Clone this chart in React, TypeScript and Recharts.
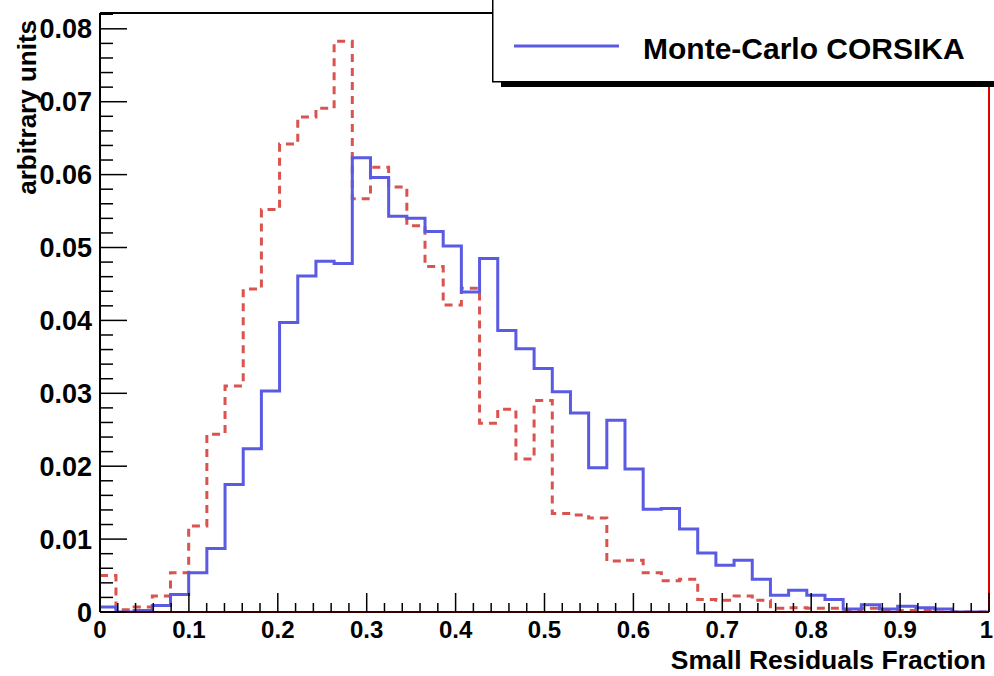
import React from 'react';
import { ComposedChart, Line, XAxis, YAxis, ReferenceLine, Legend } from 'recharts';

// Histogram binning (49 bins across the 0..1 range)
const BIN_START = -0.0025;
const BIN_WIDTH = 0.02045;

// Monte-Carlo CORSIKA (blue, solid)
const corsika = [
  0.0007, 0.0000, 0.0002, 0.0009, 0.0024, 0.0054, 0.0087, 0.0175, 0.0224, 0.0303,
  0.0397, 0.0461, 0.0481, 0.0478, 0.0623, 0.0596, 0.0543, 0.0540, 0.0522, 0.0502,
  0.0439, 0.0485, 0.0386, 0.0361, 0.0334, 0.0302, 0.0273, 0.0198, 0.0263, 0.0196,
  0.0141, 0.0142, 0.0114, 0.0081, 0.0064, 0.0071, 0.0045, 0.0023, 0.0030, 0.0023,
  0.0017, 0.0004, 0.0010, 0.0004, 0.0008, 0.0006, 0.0004, 0.0000, 0.0000,
];

// Second distribution (red, dashed)
const second = [
  0.0050, 0.0003, 0.0007, 0.0022, 0.0054, 0.0118, 0.0244, 0.0310, 0.0443, 0.0552,
  0.0642, 0.0679, 0.0691, 0.0783, 0.0567, 0.0610, 0.0583, 0.0530, 0.0474, 0.0421,
  0.0444, 0.0259, 0.0278, 0.0210, 0.0290, 0.0135, 0.0133, 0.0129, 0.0070, 0.0071,
  0.0054, 0.0043, 0.0045, 0.0017, 0.0016, 0.0022, 0.0016, 0.0005, 0.0006, 0.0005,
  0.0005, 0.0003, 0.0005, 0.0003, 0.0002, 0.0002, 0.0000, 0.0000, 0.0000,
];

const xTickLabels = ['0', '0.1', '0.2', '0.3', '0.4', '0.5', '0.6', '0.7', '0.8', '0.9', '1'];
const yTickLabels = ['0', '0.01', '0.02', '0.03', '0.04', '0.05', '0.06', '0.07', '0.08'];

const X_TITLE = 'Small Residuals Fraction';
const Y_TITLE = 'arbitrary units';
const LEGEND_LABEL = 'Monte-Carlo CORSIKA';

const Y_MAX = 0.08217;
const xTicks = Array.from({ length: 51 }, (_, i) => +(i * 0.02).toFixed(2));
const yTicks = Array.from({ length: 42 }, (_, i) => +(i * 0.002).toFixed(3));

const PLOT_LEFT = 100;
const PLOT_BOTTOM = 612;
const FONT = '"Liberation Sans", Arial, Helvetica, sans-serif';
const BLUE = '#5a5ae2';
const RED_DASH = '#d9534f';
const RED = '#e00000';

function toSteps(values: number[]) {
  const pts = values.map((v, k) => ({ x: Math.max(0, BIN_START + k * BIN_WIDTH), y: v }));
  pts.push({ x: Math.min(1, BIN_START + values.length * BIN_WIDTH), y: values[values.length - 1] });
  return pts;
}

const corsikaSteps = toSteps(corsika);
const secondSteps = toSteps(second);

const YTick = (props: any) => {
  const { y, payload } = props;
  const v = payload.value as number;
  const idx = Math.round(v * 100);
  const major = Math.abs(v * 100 - idx) < 1e-6;
  return (
    <g>
      <line x1={PLOT_LEFT} x2={PLOT_LEFT + (major ? 27 : 13)} y1={y} y2={y} stroke="#000" strokeWidth={1.5} />
      {major && (
        <text x={92} y={y + 9.5} textAnchor="end" fontFamily={FONT} fontWeight="bold" fontSize={27} fill="#000">
          {yTickLabels[idx]}
        </text>
      )}
    </g>
  );
};

const XTick = (props: any) => {
  const { x, payload } = props;
  const v = payload.value as number;
  const idx = Math.round(v * 10);
  const major = Math.abs(v * 10 - idx) < 1e-6;
  const last = idx === xTickLabels.length - 1;
  return (
    <g>
      <line x1={x} x2={x} y1={PLOT_BOTTOM} y2={PLOT_BOTTOM - (major ? 19 : 9)} stroke="#000" strokeWidth={1.5} />
      {major && (
        <text x={last ? x + 4 : x} y={638} textAnchor={last ? 'end' : 'middle'} fontFamily={FONT} fontWeight="bold" fontSize={24} fill="#000">
          {xTickLabels[idx]}
        </text>
      )}
    </g>
  );
};

const XTitle = (props: any) => {
  const vb = props.viewBox || { x: 100, y: 612, width: 889, height: 64 };
  return (
    <text x={vb.x + vb.width - 3} y={vb.y + 57} textAnchor="end" fontFamily={FONT} fontWeight="bold" fontSize={26.5} fill="#000">
      {X_TITLE}
    </text>
  );
};

const YTitle = () => (
  <text
    x={36}
    y={20}
    transform="rotate(-90 36 20)"
    textAnchor="end"
    fontFamily={FONT}
    fontWeight="bold"
    fontSize={26}
    fill="#000"
  >
    {Y_TITLE}
  </text>
);

const LegendBox = (props: any) => {
  const items = (props.payload || []).filter((p: any) => p.value === LEGEND_LABEL);
  const item = items[0];
  const color = item ? item.color : BLUE;
  return (
    <svg width={502} height={92} style={{ display: 'block' }}>
      <rect x={9} y={-10} width={600} height={97} fill="#000" />
      <rect x={0.75} y={-10} width={600} height={91.75} fill="#fff" stroke="#000" strokeWidth={1.5} />
      <line x1={22} x2={127} y1={46} y2={46} stroke={color} strokeWidth={3} />
      <text x={151} y={59} fontFamily={FONT} fontWeight="bold" fontSize={30} fill="#000">
        {LEGEND_LABEL}
      </text>
    </svg>
  );
};

export default function App() {
  return (
    <div style={{ position: 'absolute', left: 0, top: 0, width: 994, height: 676, background: '#fff' }}>
      <ComposedChart width={994} height={676} margin={{ top: 13, right: 5, bottom: 0, left: 0 }}>
        <XAxis
          type="number"
          dataKey="x"
          domain={[0, 1]}
          ticks={xTicks}
          interval={0}
          allowDataOverflow
          height={64}
          tickLine={false}
          tick={<XTick />}
          axisLine={{ stroke: '#000', strokeWidth: 1.5 }}
          label={<XTitle />}
        />
        <YAxis
          type="number"
          domain={[0, Y_MAX]}
          ticks={yTicks}
          interval={0}
          allowDataOverflow
          width={100}
          tickLine={false}
          tick={<YTick />}
          axisLine={{ stroke: '#000', strokeWidth: 2 }}
          label={<YTitle />}
        />
        <ReferenceLine y={Y_MAX} stroke="#000" strokeWidth={2} ifOverflow="visible" />
        <ReferenceLine y={0} stroke={RED} strokeWidth={2} ifOverflow="visible" />
        <ReferenceLine x={1} stroke={RED} strokeWidth={2} ifOverflow="visible" />
        <Line
          data={secondSteps}
          dataKey="y"
          name="Second distribution"
          type="stepAfter"
          stroke={RED_DASH}
          strokeWidth={3}
          strokeDasharray="8 6"
          dot={false}
          activeDot={false}
          legendType="none"
          isAnimationActive={false}
        />
        <Line
          data={corsikaSteps}
          dataKey="y"
          name={LEGEND_LABEL}
          type="stepAfter"
          stroke={BLUE}
          strokeWidth={3}
          dot={false}
          activeDot={false}
          isAnimationActive={false}
        />
        <Legend
          layout="vertical"
          verticalAlign="middle"
          align="center"
          content={<LegendBox />}
          wrapperStyle={{ position: 'absolute', left: 492, top: 0, width: 502, height: 92, overflow: 'hidden', margin: 0, padding: 0 }}
        />
      </ComposedChart>
    </div>
  );
}
